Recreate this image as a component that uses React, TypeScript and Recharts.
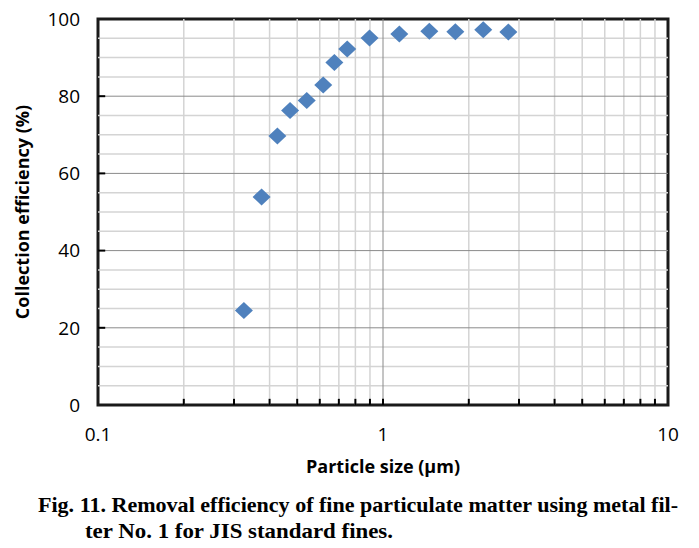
import React from 'react'
import {
  ScatterChart,
  Scatter,
  XAxis,
  YAxis,
  ReferenceLine,
  ReferenceArea,
  Label,
} from 'recharts'

// particle size (um) and collection efficiency (%)
const particleSizes = [0.325, 0.375, 0.426, 0.472, 0.54, 0.617, 0.675, 0.749, 0.897, 1.141, 1.454, 1.794, 2.248, 2.753]
const efficiencies = [24.5, 53.9, 69.7, 76.3, 78.9, 82.9, 88.7, 92.2, 95.1, 96.1, 96.8, 96.7, 97.2, 96.6]

const xTicks = [0.1, 1, 10]
const yTicks = [0, 20, 40, 60, 80, 100]
const xMinorGrid = [0.2, 0.3, 0.4, 0.5, 0.6, 0.7, 0.8, 0.9, 2, 3, 4, 5, 6, 7, 8, 9]
const xMajorGrid = [1]
const yMinorGrid = [5, 10, 15, 25, 30, 35, 45, 50, 55, 65, 70, 75, 85, 90, 95]
const yMajorGrid = [20, 40, 60, 80]

const captionLines = [
  'Fig. 11. Removal efficiency of fine particulate matter using metal fil-',
  'ter No. 1 for JIS standard fines.',
]

const data = particleSizes.map((x, i) => ({ x, y: efficiencies[i] }))

const sans = '"Open Sans", Lato, sans-serif'
const serif = '"Liberation Serif", "Times New Roman", serif'

// diamond marker like Excel's default
const Diamond = (props: any) => {
  const { cx, cy } = props
  if (cx == null || cy == null) return null
  return (
    <polygon
      points={`${cx},${cy - 8.5} ${cx + 9},${cy} ${cx},${cy + 8.5} ${cx - 9},${cy}`}
      fill="#4F81BD"
    />
  )
}

export default function App() {
  return (
    <div style={{ position: 'absolute', left: 0, top: 0, width: 699, height: 548, background: '#fff' }}>
      <ScatterChart width={699} height={548} margin={{ top: 19, right: 31, bottom: 112, left: 38 }}>
        <XAxis
          dataKey="x"
          type="number"
          scale="log"
          domain={[0.1, 10]}
          ticks={xTicks}
          allowDataOverflow
          axisLine={false}
          tickLine={false}
          tickSize={0}
          tickMargin={23}
          height={31}
          tick={{ fill: '#000', fontSize: 19, fontFamily: sans }}
        >
          <Label
            content={() => (
              <text
                x={383}
                y={473}
                textAnchor="middle"
                fontFamily={sans}
                fontWeight="bold"
                fontSize={18}
                fill="#000"
              >
                Particle size (μm)
              </text>
            )}
          />
        </XAxis>
        <YAxis
          dataKey="y"
          type="number"
          domain={[0, 100]}
          ticks={yTicks}
          axisLine={false}
          tickLine={false}
          tickSize={0}
          tickMargin={18}
          width={60}
          tick={{ fill: '#000', fontSize: 19, fontFamily: sans }}
        >
          <Label
            content={() => (
              <text
                x={0}
                y={0}
                transform="translate(29, 212) rotate(-90)"
                textAnchor="middle"
                fontFamily={sans}
                fontWeight="bold"
                fontSize={18}
                fill="#000"
              >
                Collection efficiency (%)
              </text>
            )}
          />
        </YAxis>

        {/* minor grid */}
        {yMinorGrid.map((v) => (
          <ReferenceLine key={`ym-${v}`} y={v} stroke="#d4d4d4" strokeWidth={1.5} />
        ))}
        {xMinorGrid.map((v) => (
          <ReferenceLine key={`xm-${v}`} x={v} stroke="#d4d4d4" strokeWidth={1.5} />
        ))}
        {/* major grid */}
        {yMajorGrid.map((v) => (
          <ReferenceLine key={`yM-${v}`} y={v} stroke="#8a8a8a" strokeWidth={1} />
        ))}
        {xMajorGrid.map((v) => (
          <ReferenceLine key={`xM-${v}`} x={v} stroke="#8a8a8a" strokeWidth={1} />
        ))}

        {/* inward tick marks */}
        {[...xMinorGrid, ...xMajorGrid].map((v) => (
          <ReferenceLine
            key={`xt-${v}`}
            segment={[{ x: v, y: 0 }, { x: v, y: 1.6 }]}
            stroke="#000"
            strokeWidth={2}
          />
        ))}
        {yMajorGrid.map((v) => (
          <ReferenceLine
            key={`yt-${v}`}
            segment={[{ x: 0.1, y: v }, { x: 0.106, y: v }]}
            stroke="#000"
            strokeWidth={2}
          />
        ))}

        <ReferenceArea x1={0.1} x2={10} y1={0} y2={100} fill="none" stroke="#1a1a1a" strokeWidth={3} />

        <Scatter data={data} shape={<Diamond />} isAnimationActive={false} />
      </ScatterChart>

      <svg width={699} height={80} style={{ position: 'absolute', left: 0, top: 488 }}>
        <text
          x={38}
          y={24}
          fontFamily={serif}
          fontWeight="bold"
          fontSize={21}
          textLength={640}
          lengthAdjust="spacingAndGlyphs"
          fill="#000"
        >
          {captionLines[0]}
        </text>
        <text
          x={85}
          y={50}
          fontFamily={serif}
          fontWeight="bold"
          fontSize={21}
          textLength={308}
          lengthAdjust="spacingAndGlyphs"
          fill="#000"
        >
          {captionLines[1]}
        </text>
      </svg>
    </div>
  )
}
